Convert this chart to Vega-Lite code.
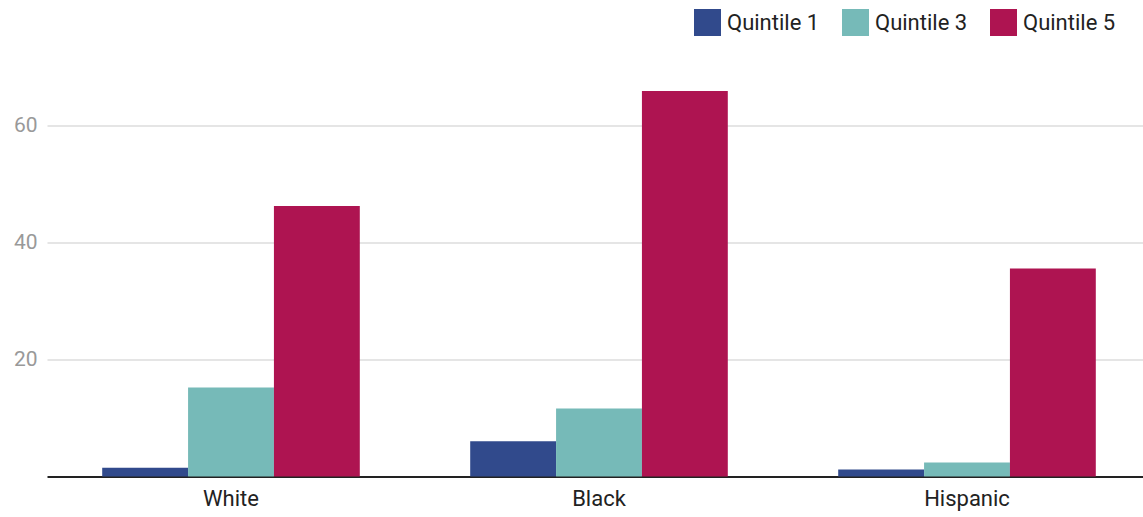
{
  "$schema": "https://vega.github.io/schema/vega-lite/v6.json",
  "width": 1104,
  "height": 410,
  "autosize": {"type": "none"},
  "padding": {"left": 47, "top": 66.5, "right": 0, "bottom": 40},
  "background": "white",
  "config": {
    "font": "Roboto",
    "view": {"stroke": null}
  },
  "data": {
    "values": [
      {"group": "White", "quintile": "Quintile 1", "value": 1.5},
      {"group": "White", "quintile": "Quintile 3", "value": 15.2},
      {"group": "White", "quintile": "Quintile 5", "value": 46.2},
      {"group": "Black", "quintile": "Quintile 1", "value": 6.0},
      {"group": "Black", "quintile": "Quintile 3", "value": 11.6},
      {"group": "Black", "quintile": "Quintile 5", "value": 65.8},
      {"group": "Hispanic", "quintile": "Quintile 1", "value": 1.2},
      {"group": "Hispanic", "quintile": "Quintile 3", "value": 2.4},
      {"group": "Hispanic", "quintile": "Quintile 5", "value": 35.5}
    ]
  },
  "mark": {"type": "bar"},
  "encoding": {
    "x": {
      "field": "group",
      "type": "nominal",
      "sort": ["White", "Black", "Hispanic"],
      "scale": {"paddingInner": 0.3, "paddingOuter": 0.15},
      "axis": {
        "title": null,
        "labelAngle": 0,
        "labelFontSize": 22,
        "labelColor": "#222222",
        "labelPadding": 12,
        "ticks": false,
        "domainColor": "#222222",
        "domainWidth": 2
      }
    },
    "xOffset": {"field": "quintile", "type": "nominal", "sort": ["Quintile 1", "Quintile 3", "Quintile 5"], "scale": {"paddingInner": 0, "paddingOuter": 0}},
    "y": {
      "field": "value",
      "type": "quantitative",
      "scale": {"domain": [0, 70], "nice": false},
      "axis": {
        "title": null,
        "values": [20, 40, 60],
        "labelFontSize": 21,
        "labelColor": "#999999",
        "labelPadding": 10,
        "ticks": false,
        "domain": false,
        "gridColor": "#dddddd",
        "gridWidth": 1.5
      }
    },
    "color": {
      "field": "quintile",
      "type": "nominal",
      "scale": {"domain": ["Quintile 1", "Quintile 3", "Quintile 5"], "range": ["#314a8c", "#76bab8", "#ae1451"]},
      "legend": {
        "title": null,
        "orient": "none",
        "direction": "horizontal",
        "legendX": 647,
        "legendY": -57.5,
        "symbolType": "square",
        "symbolSize": 729,
        "symbolStrokeWidth": 0,
        "labelFontSize": 22,
        "labelColor": "#222222",
        "labelOffset": 6,
        "columnPadding": 22
      }
    }
  }
}
